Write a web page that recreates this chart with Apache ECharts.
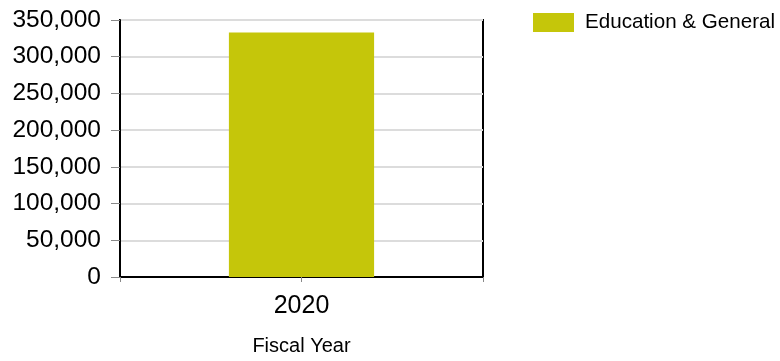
<!DOCTYPE html>
<html><head><meta charset="utf-8">
<script src="https://cdn.jsdelivr.net/npm/echarts@6/dist/echarts.min.js"></script>
<style>html,body{margin:0;padding:0;background:#fff;overflow:hidden}#c{width:780px;height:361px}</style>
</head><body><div id="c"></div>
<script>
var categories = ['2020'];
var seriesName = 'Education & General';
var values = [333000];
var yTicks = [0, 50000, 100000, 150000, 200000, 250000, 300000, 350000];

var chart = echarts.init(document.getElementById('c'));
var font = 'Liberation Sans, Arial, sans-serif';
chart.setOption({
  animation: false,
  legend: {
    left: 528, top: 7, itemWidth: 41, itemHeight: 19, icon: 'rect', itemGap: 10,
    textStyle: {fontFamily: font, fontSize: 20.6, color: '#000', padding: [0, 0, 0, 6]},
    data: [seriesName]
  },
  grid: {left: 120, width: 363, top: 20, height: 261, show: true, borderColor: '#000', borderWidth: 2, containLabel: false},
  xAxis: [{
    type: 'category', data: categories,
    name: 'Fiscal Year', nameLocation: 'middle', nameGap: 59,
    nameTextStyle: {fontFamily: font, fontSize: 20, color: '#000'},
    axisLine: {lineStyle: {color: '#000', width: 2}},
    axisTick: {show: true, length: 5, lineStyle: {color: '#888'}},
    axisLabel: {fontFamily: font, fontSize: 25, color: '#000', margin: 17}
  }, {
    type: 'category', data: categories, position: 'bottom',
    axisLine: {show: false},
    axisTick: {show: true, alignWithLabel: true, length: 5, lineStyle: {color: '#888'}},
    axisLabel: {show: false}
  }],
  yAxis: {
    type: 'value', min: yTicks[0], max: yTicks[yTicks.length - 1], interval: yTicks[1] - yTicks[0],
    axisLine: {show: true, lineStyle: {color: '#000', width: 2}},
    axisTick: {show: true, length: 9, lineStyle: {color: '#888'}},
    splitLine: {lineStyle: {color: '#dcdcdc', width: 2}},
    axisLabel: {fontFamily: font, fontSize: 24.5, color: '#000', margin: 19,
      formatter: function (v) { return v.toLocaleString('en-US'); }}
  },
  series: [{
    name: seriesName, type: 'bar', data: values, barWidth: '40%',
    itemStyle: {color: '#c5c60a'}
  }]
});
</script></body></html>
